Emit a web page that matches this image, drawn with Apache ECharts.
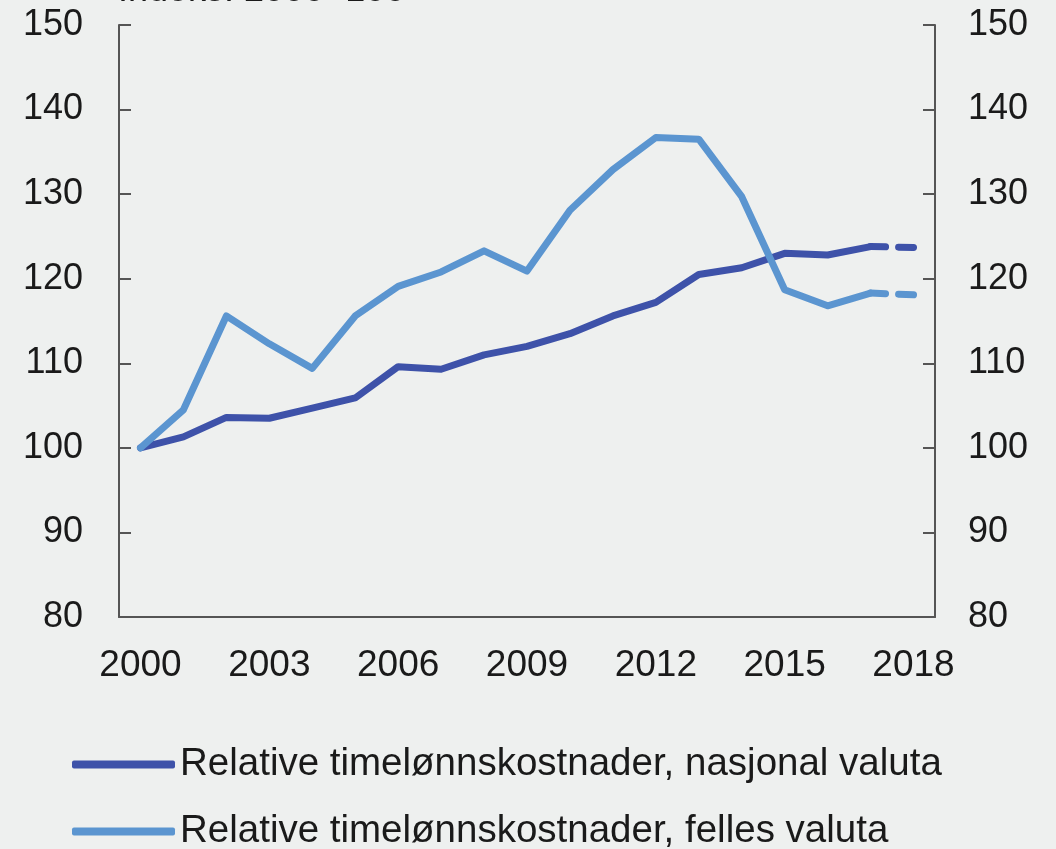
<!DOCTYPE html>
<html>
<head>
<meta charset="utf-8">
<script src="https://cdn.jsdelivr.net/npm/echarts@6/dist/echarts.min.js"></script>
<style>
  html, body { margin: 0; padding: 0; background: #eef0ef; }
  #chart { width: 1056px; height: 849px; }
</style>
</head>
<body>
<div id="chart"></div>
<script>
const years = [
  "2000", "2001", "2002", "2003", "2004", "2005", "2006", "2007", "2008", "2009",
  "2010", "2011", "2012", "2013", "2014", "2015", "2016", "2017", "2018",
];
// 2018 er anslag (stiplet)
const nasjonal = [100, 101.3, 103.6, 103.5, 104.7, 105.9, 109.6, 109.3, 111.0, 112.0,
  113.5, 115.6, 117.2, 120.5, 121.3, 123.0, 122.8, 123.8];
const felles = [100, 104.5, 115.6, 112.3, 109.4, 115.6, 119.1, 120.8, 123.3, 120.9,
  128.1, 132.9, 136.7, 136.5, 129.7, 118.7, 116.8, 118.3];
const nasjonalAnslag = 123.7;
const fellesAnslag = 118.1;

const names = [
  "Relative timelønnskostnader, nasjonal valuta",
  "Relative timelønnskostnader, felles valuta",
];
const colors = ["#3e52a9", "#5b95d0"];

function tail(arr, last) {
  const out = arr.map(() => null);
  out[arr.length - 1] = arr[arr.length - 1];
  out.push(last);
  return out;
}

const chart = echarts.init(document.getElementById("chart"));
const font = "'Liberation Sans', Arial, sans-serif";
const axisColor = "#555";

const yAxisBase = (pos) => ({
  type: "value",
  position: pos,
  min: 80,
  max: 150,
  interval: 10,
  axisLine: { show: true, lineStyle: { color: axisColor, width: 2 } },
  axisTick: { show: true, inside: true, length: 12, lineStyle: { color: axisColor, width: 2 } },
  axisLabel: { color: "#1a1a1a", fontSize: 36, fontFamily: font, margin: pos === "left" ? 36 : 33 },
  splitLine: { show: false },
});

const legendItem = (name, top) => ({
  data: [{ name: name, icon: "roundRect" }],
  orient: "vertical",
  left: 67,
  top: top,
  itemWidth: 103,
  itemHeight: 8,
  textStyle: { fontSize: 38.5, fontFamily: font, color: "#1a1a1a", padding: [0, 0, 0, 0] },
});

chart.setOption({
  backgroundColor: "#eef0ef",
  animation: false,
  graphic: [
    {
      type: "text",
      left: 118,
      top: -27,
      style: { text: "Indeks. 2000=100", fontSize: 36, fontFamily: font, fill: "#1a1a1a" },
    },
  ],
  grid: { left: 119, right: 121, top: 25, bottom: 232, containLabel: false },
  legend: [legendItem(names[0], 740), legendItem(names[1], 807)],
  xAxis: {
    type: "category",
    data: years,
    boundaryGap: true,
    axisLine: { show: true, lineStyle: { color: axisColor, width: 2 } },
    axisTick: { show: false },
    axisLabel: { interval: 2, color: "#1a1a1a", fontSize: 37, fontFamily: font, margin: 30 },
  },
  yAxis: [yAxisBase("left"), yAxisBase("right")],
  series: [
    {
      name: names[0],
      type: "line",
      data: nasjonal,
      showSymbol: false,
      symbol: "none",
      color: colors[0],
      lineStyle: { width: 7, color: colors[0], cap: "round", join: "round" },
    },
    {
      name: names[1],
      type: "line",
      data: felles,
      showSymbol: false,
      symbol: "none",
      color: colors[1],
      lineStyle: { width: 7, color: colors[1], cap: "round", join: "round" },
    },
    {
      name: "nasjonal anslag",
      type: "line",
      data: tail(nasjonal, nasjonalAnslag),
      showSymbol: false,
      symbol: "none",
      lineStyle: { width: 7, color: colors[0], type: [15, 13], cap: "round" },
    },
    {
      name: "felles anslag",
      type: "line",
      data: tail(felles, fellesAnslag),
      showSymbol: false,
      symbol: "none",
      lineStyle: { width: 7, color: colors[1], type: [15, 13], cap: "round" },
    },
  ],
});
</script>
</body>
</html>
